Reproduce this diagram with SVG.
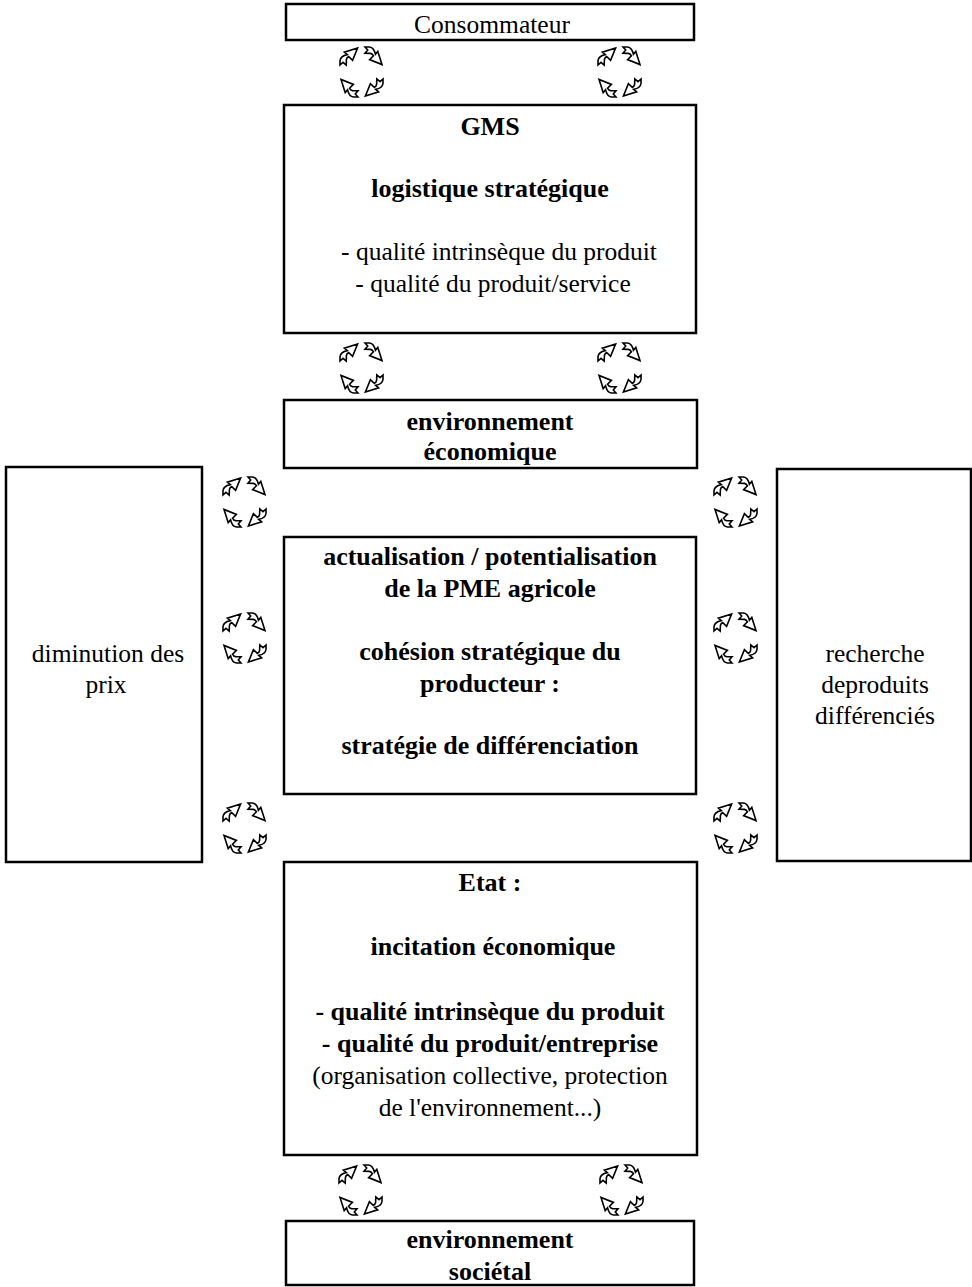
<svg xmlns="http://www.w3.org/2000/svg" xmlns:xlink="http://www.w3.org/1999/xlink" width="972" height="1287" viewBox="0 0 972 1287">
  <style>
    .box { fill: #fff; stroke: #000; stroke-width: 2.5; }
    .t { font-family: "Liberation Serif", "Times New Roman", serif; font-size: 25.5px; fill: #000; text-anchor: middle; }
    .b { font-weight: bold; font-size: 26px; }
    .arw { fill: #fff; stroke: #000; stroke-width: 1.6; stroke-linejoin: miter; }
  </style>
  <defs>
    <!-- one quarter-turn curved arrow with notched tail -->
    <path id="qa" class="arw" d="M1,19 L4,16.3 L7.2,19 L7.4,13.5 Q7.8,11.4 9.8,10.6 L13.6,14.4 L18.6,2 L5.4,6.2 L8.2,8.6 Q1.6,10 1,14.5 Z"/>
    <!-- four arrows forming an exchange cycle -->
    <g id="cycle">
      <use xlink:href="#qa" href="#qa"/>
      <use xlink:href="#qa" href="#qa" transform="translate(25,0) rotate(90 10 10)"/>
      <use xlink:href="#qa" href="#qa" transform="translate(25,32) rotate(180 10 10)"/>
      <use xlink:href="#qa" href="#qa" transform="translate(0,32) rotate(270 10 10)"/>
    </g>
  </defs>

  <rect width="972" height="1287" fill="#fff"/>

  <g id="consommateur">
    <rect class="box" x="286" y="4" width="408" height="36"/>
    <text class="t" x="492" y="33">Consommateur</text>
  </g>

  <g id="gms">
    <rect class="box" x="284" y="105" width="412" height="228"/>
    <text class="t b" x="490" y="135">GMS</text>
    <text class="t b" x="490" y="197">logistique stratégique</text>
    <text class="t" x="499" y="260">- qualité intrinsèque du produit</text>
    <text class="t" x="493" y="292">- qualité du produit/service</text>
  </g>

  <g id="env-economique">
    <rect class="box" x="284" y="400" width="413" height="68"/>
    <text class="t b" x="490" y="430">environnement</text>
    <text class="t b" x="490" y="460">économique</text>
  </g>

  <g id="diminution-prix">
    <rect class="box" x="6" y="467" width="196" height="395"/>
    <text class="t" x="108" y="662">diminution des</text>
    <text class="t" x="106" y="693">prix</text>
  </g>

  <g id="recherche-produits">
    <rect class="box" x="777" y="469" width="194" height="392"/>
    <text class="t" x="875" y="662">recherche</text>
    <text class="t" x="875" y="693">deproduits</text>
    <text class="t" x="875" y="724">différenciés</text>
  </g>

  <g id="pme-agricole">
    <rect class="box" x="284" y="537" width="412" height="257"/>
    <text class="t b" x="490" y="565">actualisation / potentialisation</text>
    <text class="t b" x="490" y="597">de la PME agricole</text>
    <text class="t b" x="490" y="660">cohésion stratégique du</text>
    <text class="t b" x="490" y="692">producteur :</text>
    <text class="t b" x="490" y="754">stratégie de différenciation</text>
  </g>

  <g id="etat">
    <rect class="box" x="284" y="862" width="413" height="293"/>
    <text class="t b" x="490" y="891">Etat :</text>
    <text class="t b" x="493" y="955">incitation économique</text>
    <text class="t b" x="490" y="1020">- qualité intrinsèque du produit</text>
    <text class="t b" x="490" y="1052">- qualité du produit/entreprise</text>
    <text class="t" x="490" y="1084">(organisation collective, protection</text>
    <text class="t" x="490" y="1116">de l'environnement...)</text>
  </g>

  <g id="env-societal">
    <rect class="box" x="286" y="1221" width="408" height="64"/>
    <text class="t b" x="490" y="1248">environnement</text>
    <text class="t b" x="490" y="1280">sociétal</text>
  </g>

  <g id="connectors">
    <use xlink:href="#cycle" href="#cycle" transform="translate(339,46)"/>
    <use xlink:href="#cycle" href="#cycle" transform="translate(597,46)"/>
    <use xlink:href="#cycle" href="#cycle" transform="translate(339,342)"/>
    <use xlink:href="#cycle" href="#cycle" transform="translate(597,342)"/>
    <use xlink:href="#cycle" href="#cycle" transform="translate(222,476)"/>
    <use xlink:href="#cycle" href="#cycle" transform="translate(713,476)"/>
    <use xlink:href="#cycle" href="#cycle" transform="translate(222,612)"/>
    <use xlink:href="#cycle" href="#cycle" transform="translate(713,612)"/>
    <use xlink:href="#cycle" href="#cycle" transform="translate(222,802)"/>
    <use xlink:href="#cycle" href="#cycle" transform="translate(713,802)"/>
    <use xlink:href="#cycle" href="#cycle" transform="translate(338,1164)"/>
    <use xlink:href="#cycle" href="#cycle" transform="translate(599,1164)"/>
  </g>
</svg>
